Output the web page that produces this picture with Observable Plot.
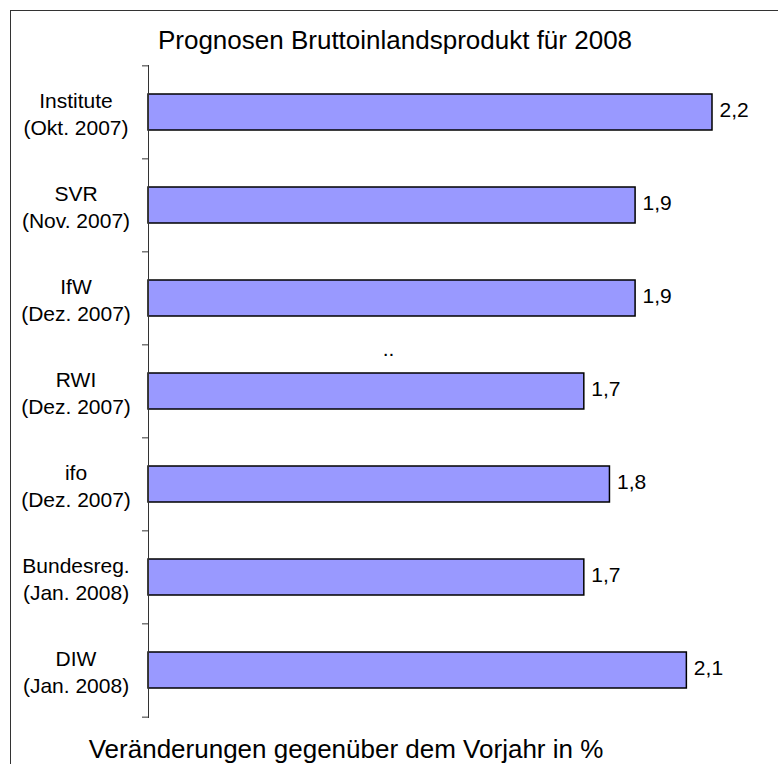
<!DOCTYPE html>
<html><head><meta charset="utf-8">
<script src="https://cdn.jsdelivr.net/npm/d3@7"></script>
<script src="https://cdn.jsdelivr.net/npm/@observablehq/plot@0.6"></script>
<style>
body{margin:0;background:#fff;}
#wrap{position:relative;width:778px;height:764px;overflow:hidden;font-family:"Liberation Sans",Arial,sans-serif;}
#border{position:absolute;left:10px;top:10px;width:800px;height:800px;border-left:1px solid #333;border-top:1px solid #333;}
#wrap svg{position:absolute;left:0;top:0;}
</style></head><body><div id="wrap"><div id="border"></div></div>
<script>
const labels = ["Institute\n(Okt. 2007)", "SVR\n(Nov. 2007)", "IfW\n(Dez. 2007)", "RWI\n(Dez. 2007)", "ifo\n(Dez. 2007)", "Bundesreg.\n(Jan. 2008)", "DIW\n(Jan. 2008)"];
const values = [2.2, 1.9, 1.9, 1.7, 1.8, 1.7, 2.1];
const title = "Prognosen Bruttoinlandsprodukt für 2008";
const xLabel = "Veränderungen gegenüber dem Vorjahr in %";
const strayText = [".."];

const data = labels.map((l, i) => ({label: l, value: values[i]}));
const W = 778, H = 764, mT = 65, mB = 46, mL = 148, mR = 66;
const step = (H - mT - mB) / labels.length;
const font = "'Liberation Sans', Arial, sans-serif";

const chart = Plot.plot({
  width: W, height: H,
  marginTop: mT, marginBottom: mB, marginLeft: mL, marginRight: mR,
  style: {fontFamily: font, background: "transparent", overflow: "visible", color: "#000"},
  x: {domain: [0, 2.2], axis: null},
  y: {domain: labels, axis: null, paddingInner: 0.61, paddingOuter: 0.305, align: 0.5},
  marks: [
    Plot.barX(data, {x: "value", y: "label", fill: "#9999FF", stroke: "#000", strokeWidth: 1.5}),
    Plot.ruleX([0], {stroke: "#333", strokeWidth: 1}),
    Plot.ruleY(labels, {y: d => d, x1: 0, x2: 0, insetLeft: -6, dy: -step / 2, stroke: "#333"}),
    Plot.ruleY([labels[labels.length - 1]], {y: d => d, x1: 0, x2: 0, insetLeft: -6, dy: step / 2, stroke: "#333"}),
    Plot.text(data, {x: 0, y: "label", text: "label", dx: -72.5, textAnchor: "middle", lineAnchor: "middle", lineHeight: 1.29, fontSize: 21, fill: "#000"}),
    Plot.text(data, {x: "value", y: "label", text: d => d.value.toFixed(1).replace(".", ","), dx: 7, dy: -2, textAnchor: "start", fontSize: 21, fill: "#000"}),
    Plot.text([title], {text: d => d, frameAnchor: "top-left", dx: 246.5, dy: -17, lineAnchor: "bottom", textAnchor: "middle", fontSize: 26, fill: "#000"}),
    Plot.text([xLabel], {text: d => d, frameAnchor: "bottom-left", dx: 197.5, dy: 39, lineAnchor: "bottom", textAnchor: "middle", fontSize: 26, fill: "#000"}),
    Plot.text(strayText, {text: d => d, x: 0, y: () => labels[3], dx: 240, dy: -35.5, lineAnchor: "bottom", textAnchor: "middle", fontSize: 21, fill: "#000"})
  ]
});
document.getElementById("wrap").appendChild(chart);
</script></body></html>
